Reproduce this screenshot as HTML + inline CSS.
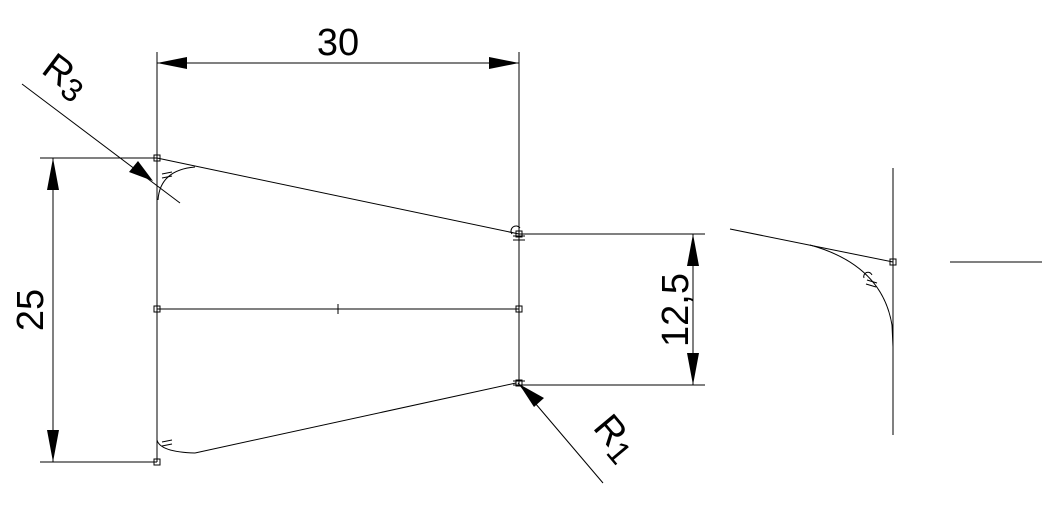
<!DOCTYPE html>
<html><head><meta charset="utf-8"><style>html,body{margin:0;padding:0;background:#fff}svg{display:block}</style></head>
<body>
<svg width="1058" height="522" viewBox="0 0 1058 522" xmlns="http://www.w3.org/2000/svg" font-family="Liberation Sans, sans-serif">
<g stroke="#000" stroke-width="1" fill="none">
<line x1="157" y1="52" x2="157" y2="462"/>
<line x1="519" y1="52" x2="519" y2="385"/>
<line x1="157" y1="63" x2="519" y2="63"/>
<line x1="157" y1="158" x2="519" y2="234"/>
<line x1="195" y1="453" x2="516" y2="383"/>
<path d="M157,440 Q160,452 195,453"/>
<path d="M158,200 Q160,170 195,167"/>
<line x1="157" y1="309" x2="519" y2="309"/>
<line x1="333" y1="309" x2="343" y2="309"/><line x1="338" y1="304" x2="338" y2="314"/>
<line x1="40" y1="158" x2="157" y2="158"/>
<line x1="40" y1="462" x2="157" y2="462"/>
<line x1="53" y1="158" x2="53" y2="462"/>
<line x1="519" y1="234" x2="705" y2="234"/>
<line x1="519" y1="385" x2="705" y2="385"/>
<line x1="693" y1="234" x2="693" y2="385"/>
<line x1="22" y1="84" x2="180" y2="203"/>
<line x1="518" y1="383" x2="603" y2="483"/>
<rect x="154" y="155" width="6" height="6"/><rect x="154" y="306" width="6" height="6"/><rect x="154" y="459" width="6" height="6"/>
<rect x="516" y="231" width="6" height="6"/><rect x="516" y="306" width="6" height="6"/><rect x="516" y="380" width="6" height="6"/>
<line x1="162" y1="174" x2="172" y2="172"/><line x1="162" y1="178" x2="172" y2="176"/>
<line x1="162" y1="442" x2="172" y2="440"/><line x1="162" y1="446" x2="172" y2="444"/>
<line x1="513" y1="236" x2="525" y2="236"/><line x1="513" y1="240" x2="525" y2="240"/>
<line x1="513" y1="381" x2="525" y2="381"/><line x1="513" y1="385" x2="525" y2="385"/>
<path d="M512,234 A5,5 0 0 1 520,228"/>
<line x1="893" y1="168" x2="893" y2="435"/>
<line x1="730" y1="229" x2="893" y2="262"/>
<path d="M810,245 Q882,265 892,325 L893,347"/>
<rect x="890" y="259" width="6" height="6"/>
<line x1="867" y1="280" x2="877" y2="283"/><line x1="866" y1="284" x2="876" y2="287"/>
<path d="M864,278 A4,4 0 0 1 872,275"/>
<line x1="950" y1="262" x2="1042" y2="262"/>
</g>
<g fill="#000">
<polygon points="157,63 187,57 187,69"/>
<polygon points="519,63 489,57 489,69"/>
<polygon points="53,158 47,190 59,190"/>
<polygon points="53,462 47,430 59,430"/>
<polygon points="693,234 687,266 699,266"/>
<polygon points="693,385 687,353 699,353"/>
<polygon points="153,181 129,172 138,161"/>
<polygon points="519,384 544,398 534,407"/>
</g>
<g font-size="38" fill="#000">
<text x="338" y="55" text-anchor="middle">30</text>
<text transform="translate(43,310) rotate(-90)" text-anchor="middle">25</text>
<text transform="translate(688,310) rotate(-90)" text-anchor="middle">12,5</text>
<text transform="translate(40,72) rotate(37)">R<tspan font-size="32" dy="6">3</tspan></text>
<text transform="translate(592,428) rotate(50)">R<tspan font-size="32" dy="6">1</tspan></text>
</g>
</svg>
</body></html>
